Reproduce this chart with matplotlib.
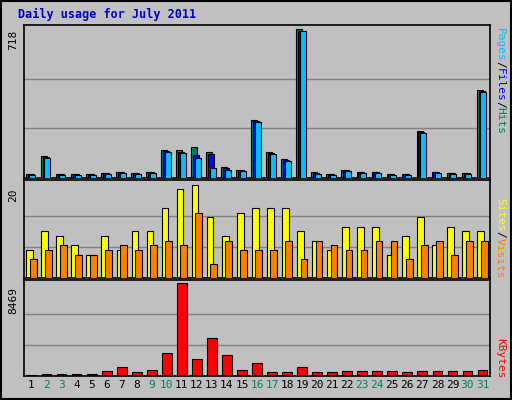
import matplotlib
matplotlib.use("Agg")
import matplotlib.pyplot as plt
import numpy as np

days = list(range(1, 32))
hits = [20,105,20,20,20,25,30,25,30,133,133,150,126,55,40,280,125,90,718,30,20,40,30,30,20,20,225,30,25,25,425]
files = [18,100,18,18,18,22,27,22,27,130,128,110,115,48,38,275,120,85,712,25,18,38,27,27,18,18,222,27,22,22,420]
pages = [15,95,15,15,15,20,25,20,25,125,120,95,50,40,35,270,115,80,712,20,15,35,25,25,15,15,218,25,20,20,415]
sites = [6,10,9,7,5,9,6,10,10,15,19,20,13,9,14,15,15,15,10,8,6,11,11,11,5,9,13,7,11,10,10]
visits = [4,6,7,5,5,6,7,6,7,8,7,14,3,8,6,6,6,8,4,8,7,6,6,8,8,4,7,8,5,8,8]
kbytes = [100,200,200,200,200,460,800,370,550,2090,8469,1560,3410,1940,550,1170,370,370,830,370,370,450,450,450,450,370,450,450,450,450,550]
weekend = {2,3,9,10,16,17,23,24,30,31}

W, H = 512, 400
fig = plt.figure(figsize=(W/100, H/100), dpi=100, facecolor="#C0C0C0")
mono = "DejaVu Sans Mono"

def ax_at(x0, y0, x1, y1):
    a = fig.add_axes([x0/W, 1-y1/H, (x1-x0)/W, (y1-y0)/H])
    a.set_facecolor("#C0C0C0")
    a.set_xlim(0.5, 31.5)
    a.set_xticks([]); a.set_yticks([])
    for s in a.spines.values():
        s.set_linewidth(1.2)
    return a

x = np.array(days)
ek = dict(edgecolor="black", linewidth=0.8)

a1 = ax_at(24, 25, 490, 178)
a1.set_ylim(0, 718*1.03)
for g in [718/3, 2*718/3]:
    a1.axhline(g, color="#808080", lw=1, zorder=0)
a1.bar(x-0.18, hits, 0.4, color="#00805C", **ek, zorder=2)
a1.bar(x-0.06, files, 0.4, color="#0000FF", **ek, zorder=3)
a1.bar(x+0.06, pages, 0.4, color="#00C0FF", **ek, zorder=4)

a2 = ax_at(24, 180, 490, 278)
a2.set_ylim(0, 20*1.05)
for g in [20/3, 40/3]:
    a2.axhline(g, color="#808080", lw=1, zorder=0)
a2.bar(x-0.12, sites, 0.45, color="#FFFF00", **ek, zorder=2)
a2.bar(x+0.12, visits, 0.45, color="#FF8000", **ek, zorder=3)

a3 = ax_at(24, 280, 490, 376)
a3.set_ylim(0, 8469*1.03)
for g in [8469/3, 2*8469/3]:
    a3.axhline(g, color="#808080", lw=1, zorder=0)
a3.bar(x, kbytes, 0.65, color="#FF0000", **ek, zorder=2)

for d in days:
    a3.text(d, -0.04, str(d), transform=a3.get_xaxis_transform(), ha="center", va="top",
            fontsize=8, family=mono, color="#00805C" if d in weekend else "black")

fig.text(18/W, 1-8/H, "Daily usage for July 2011", color="#0000C0", fontsize=8.5,
         family=mono, weight="bold", ha="left", va="top")
for txt, yc in [("718", 40), ("20", 195), ("8469", 300)]:
    fig.text(13/W, 1-yc/H, txt, rotation=90, fontsize=8, family=mono, ha="center", va="center")

def rlabel(parts, ytop):
    y = ytop
    for t, c in parts:
        fig.text(500/W, 1-y/H, t, rotation=270, fontsize=8, family=mono, color=c,
                 ha="center", va="top")
        y += 6.6*len(t)

rlabel([("Pages", "#00C0FF"), ("/", "black"), ("Files", "#0000FF"), ("/", "black"), ("Hits", "#00805C")], 28)
rlabel([("Sites", "#FFFF00"), ("/", "black"), ("Visits", "#FF8000")], 198)
rlabel([("KBytes", "#FF0000")], 338)

fig.add_artist(plt.Rectangle((0.002, 0.002), 0.996, 0.996, transform=fig.transFigure,
                             fill=False, edgecolor="black", lw=1.5))
fig.savefig("out.png", dpi=100, facecolor=fig.get_facecolor())
